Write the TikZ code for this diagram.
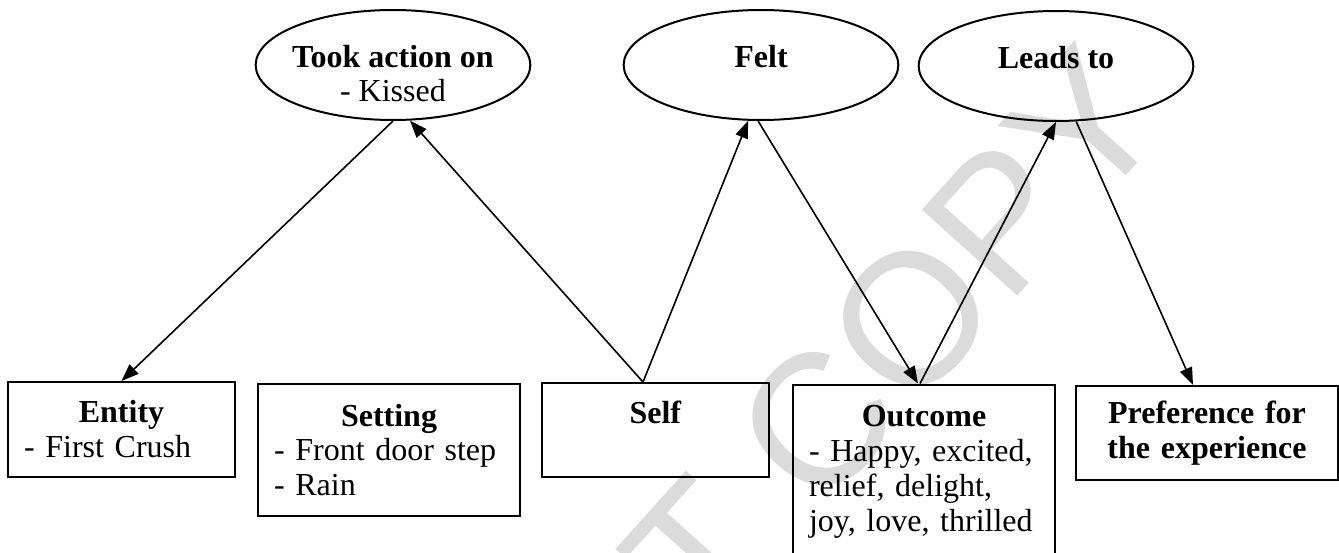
\documentclass[tikz,border=0pt]{standalone}
\usepackage{fontspec}
\setmainfont{Liberation Serif}
\newfontfamily\stampfont{Liberation Sans}
\usetikzlibrary{calc,positioning,arrows.meta,shapes.geometric}
\tikzstyle{event}  = [ellipse, draw, line width=0.75pt, minimum width=103pt, minimum height=41.25pt, inner sep=0pt]
\tikzstyle{eventtext} = [align=center, inner sep=0pt, font=\fontsize{12pt}{13.1pt}\selectfont]
\tikzstyle{frame}  = [rectangle, draw, line width=0.75pt, inner xsep=6pt, inner ysep=0pt, align=left, font=\fontsize{12pt}{13.1pt}\selectfont]
\tikzstyle{arrow}  = [line width=0.6pt, -{Triangle[length=6.5pt,width=4.8pt]}]
\tikzstyle{wmark}  = [text=black!14, inner sep=0pt, font=\stampfont\fontsize{70pt}{70pt}\selectfont]
\newcommand{\boxhead}[1]{\makebox[\hsize]{\textbf{#1}}}

\begin{document}
\begin{tikzpicture}[x=0.375pt,y=-0.375pt]
		\useasboundingbox (0,0) rectangle (1339,553);
		\clip (0,0) rectangle (1339,553);

		% watermark
		\node[wmark, rotate=48] (stamp) at (689,565) {DO NOT COPY};

		% ovals
		\node[event] (took)  at (393,65)  {};
		\node[event] (felt)  at (761,65)  {};
		\node[event] (leads) at (1056,66) {};
		\node[eventtext] (tooktxt)  at ([yshift=-3.2pt]took.center)  {\textbf{Took action on}\\- Kissed};
		\node[eventtext] (felttxt)  at ([yshift=-3.2pt]felt.center)  {\textbf{Felt}\\\mbox{}};
		\node[eventtext] (leadstxt) at ([yshift=-3.2pt]leads.center) {\textbf{Leads to}\\\mbox{}};

		% boxes
		\node[frame, minimum width=85.1pt, text width=73.1pt, minimum height=35.6pt] (entity) at (121.5,429.5)
			{\boxhead{Entity}\\- First Crush};
		\node[frame, minimum width=98.25pt, text width=86.25pt, minimum height=49.5pt] (setting) at (389,450)
			{\boxhead{Setting}\\- Front door step\\- Rain};
		\node[frame, minimum width=85.1pt, text width=73.1pt, minimum height=35.25pt] (self) at (655.5,430)
			{\boxhead{Self}\\\mbox{}};
		\node[frame, minimum width=98.25pt, text width=86.25pt, minimum height=65.6pt] (outcome) at (924,472)
			{\boxhead{Outcome}\\- Happy, excited,\\relief, delight,\\joy, love, thrilled};
		\node[frame, minimum width=98.25pt, text width=86.25pt, minimum height=35.25pt] (pref) at (1207,433)
			{\boxhead{Preference for}\\\boxhead{the experience}};

		% connectors
		\draw[arrow] (took.-90) -- (entity.north);
		\draw[arrow] ($(self.north)+(-12.5,0)$) -- (took.-73);
		\draw[arrow] ($(self.north)+(-12.5,0)$) -- (felt.-103);
		\draw[arrow] (felt.-93) -- ($(outcome.north)+(-6,0)$);
		\draw[arrow] ($(outcome.north)+(-4,0)$) -- (leads.-90);
		\draw[arrow] (leads.-70) -- ($(pref.north)+(-14,0)$);
	\end{tikzpicture}
\end{document}
